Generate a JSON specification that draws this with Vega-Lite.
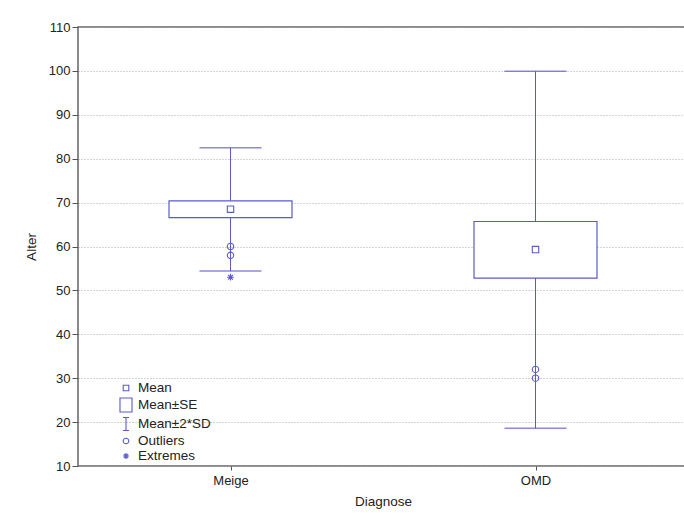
{
  "$schema": "https://vega.github.io/schema/vega-lite/v6.json",
  "autosize": {"type": "none"},
  "padding": {"left": 78, "top": 27, "right": 0, "bottom": 49},
  "width": 610,
  "height": 439,
  "background": "white",
  "config": {
    "font": "Liberation Sans",
    "view": {"stroke": "#666666", "strokeWidth": 1.5},
    "axis": {
      "labelFont": "Liberation Sans",
      "titleFont": "Liberation Sans",
      "labelFontSize": 13,
      "titleFontSize": 13.5,
      "titleFontWeight": "normal",
      "labelColor": "#222222",
      "titleColor": "#222222",
      "tickColor": "#555555",
      "domain": false
    }
  },
  "datasets": {
    "stats": [
      {"Diagnose": "Meige", "se_lo": 66.6, "se_hi": 70.4, "sd_lo": 54.4, "sd_hi": 82.5},
      {"Diagnose": "OMD", "se_lo": 52.8, "se_hi": 65.7, "sd_lo": 18.6, "sd_hi": 99.9}
    ],
    "points": [
      {"Diagnose": "Meige", "value": 68.5, "type": "Mean"},
      {"Diagnose": "OMD", "value": 59.3, "type": "Mean"},
      {"Diagnose": "Meige", "value": 60, "type": "Outliers"},
      {"Diagnose": "Meige", "value": 58, "type": "Outliers"},
      {"Diagnose": "OMD", "value": 32, "type": "Outliers"},
      {"Diagnose": "OMD", "value": 30, "type": "Outliers"},
      {"Diagnose": "Meige", "value": 53, "type": "Extremes"}
    ]
  },
  "encoding": {
    "x": {
      "field": "Diagnose",
      "type": "nominal",
      "scale": {"type": "point", "padding": 0.5},
      "axis": {"labelAngle": 0, "tickSize": 4, "labelPadding": 4, "titlePadding": 7, "grid": false, "title": "Diagnose"}
    }
  },
  "layer": [
    {
      "data": {"name": "stats"},
      "mark": {"type": "rule", "color": "#5a5acd", "strokeWidth": 1},
      "encoding": {
        "y": {
          "field": "sd_lo",
          "type": "quantitative",
          "scale": {"domain": [10, 110], "nice": false, "zero": false},
          "axis": {
            "title": "Alter",
            "values": [10, 20, 30, 40, 50, 60, 70, 80, 90, 100, 110],
            "tickSize": 6,
            "labelPadding": 2,
            "titlePadding": 10,
            "grid": true,
            "gridColor": "#a8a8a8",
            "gridDash": [1, 2],
            "gridWidth": 1
          }
        },
        "y2": {"field": "sd_hi"}
      }
    },
    {
      "data": {"name": "stats"},
      "mark": {"type": "tick", "color": "#5a5acd", "size": 62, "thickness": 1.5},
      "encoding": {"y": {"field": "sd_lo", "type": "quantitative"}}
    },
    {
      "data": {"name": "stats"},
      "mark": {"type": "tick", "color": "#5a5acd", "size": 62, "thickness": 1.5},
      "encoding": {"y": {"field": "sd_hi", "type": "quantitative"}}
    },
    {
      "data": {"name": "stats"},
      "mark": {"type": "bar", "fill": "white", "stroke": "#5a5acd", "strokeWidth": 1.2, "size": 123},
      "encoding": {
        "y": {"field": "se_lo", "type": "quantitative"},
        "y2": {"field": "se_hi"}
      }
    },
    {
      "data": {"name": "points"},
      "mark": {"type": "point", "filled": false, "color": "#5a5acd", "strokeWidth": 1.1, "size": 256, "opacity": 1},
      "encoding": {
        "y": {"field": "value", "type": "quantitative"},
        "shape": {
          "field": "type",
          "type": "nominal",
          "scale": {
            "domain": ["Mean", "Mean±SE", "Mean±2*SD", "Outliers", "Extremes"],
            "range": [
              "M-0.4,-0.4L0.4,-0.4L0.4,0.4L-0.4,0.4Z",
              "M-0.86,-1L0.86,-1L0.86,1L-0.86,1Z",
              "M-0.43,-0.93L0.43,-0.93M0,-0.93L0,0.93M-0.43,0.93L0.43,0.93",
              "M-0.4,0A0.4,0.4,0,1,0,0.4,0A0.4,0.4,0,1,0,-0.4,0Z",
              "M-0.42,0L0.42,0M0,-0.42L0,0.42M-0.3,-0.3L0.3,0.3M-0.3,0.3L0.3,-0.3"
            ]
          },
          "legend": {
            "title": null,
            "orient": "none",
            "legendX": 40,
            "legendY": 353,
            "padding": 0,
            "symbolSize": 196,
            "symbolStrokeColor": "#5a5acd",
            "symbolFillColor": "transparent",
            "symbolStrokeWidth": 1.1,
            "symbolOpacity": 1,
            "labelFont": "Liberation Sans",
            "labelFontSize": 13.5,
            "labelColor": "#222222",
            "labelOffset": 4,
            "rowPadding": 0
          }
        }
      }
    }
  ]
}
